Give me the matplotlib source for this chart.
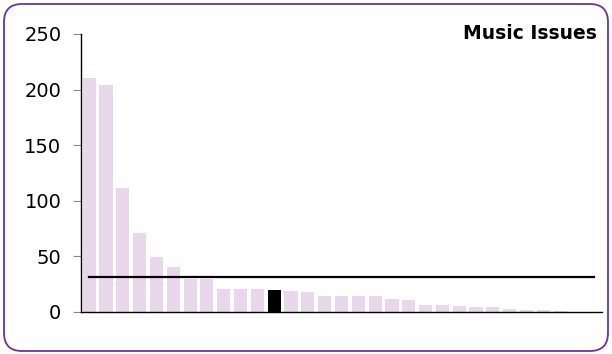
import matplotlib.pyplot as plt
from matplotlib.patches import FancyBboxPatch

# Valeurs (31 catégories, triées)
categories = list(range(31))
valeurs = [210, 204, 111, 71, 49, 40, 30, 30, 21, 21, 21, 20, 19, 18, 14, 14,
           14, 14, 12, 11, 6, 6, 5, 4, 4, 3, 2, 2, 1, 0, 0]
surligne = 11  # barre mise en évidence
yticks = [0, 50, 100, 150, 200, 250]

moyenne = sum(valeurs) / len(valeurs)

fig = plt.figure(figsize=(6.12, 3.54), dpi=100)
ax = fig.add_axes([0.132, 0.119, 0.852, 0.785])

couleurs = ['#e9d8eb'] * len(valeurs)
couleurs[surligne] = 'black'
ax.bar(categories, valeurs, width=0.78, color=couleurs)
ax.plot([categories[0], categories[-1]], [moyenne, moyenne], color='black', lw=1.6)

ax.set_xlim(-0.5, len(valeurs) - 0.5)
ax.set_ylim(0, 250)
ax.set_yticks(yticks)
ax.set_xticks([])
ax.tick_params(axis='y', labelsize=14, length=6, color='#888888', pad=8)
for s in ['top', 'right']:
    ax.spines[s].set_visible(False)
ax.spines['left'].set_linewidth(1.0)
ax.spines['bottom'].set_linewidth(1.0)

fig.text(0.975, 0.905, 'Music Issues', ha='right', va='center',
         fontsize=13.5, fontweight='bold')

# cadre arrondi violet
cadre = FancyBboxPatch((4, 3), 604, 347, boxstyle='round,pad=0,rounding_size=18',
                       transform=None, fill=False, edgecolor='#7030a0', lw=1.3)
fig.patches.append(cadre)

fig.savefig('out.png', dpi=100)
